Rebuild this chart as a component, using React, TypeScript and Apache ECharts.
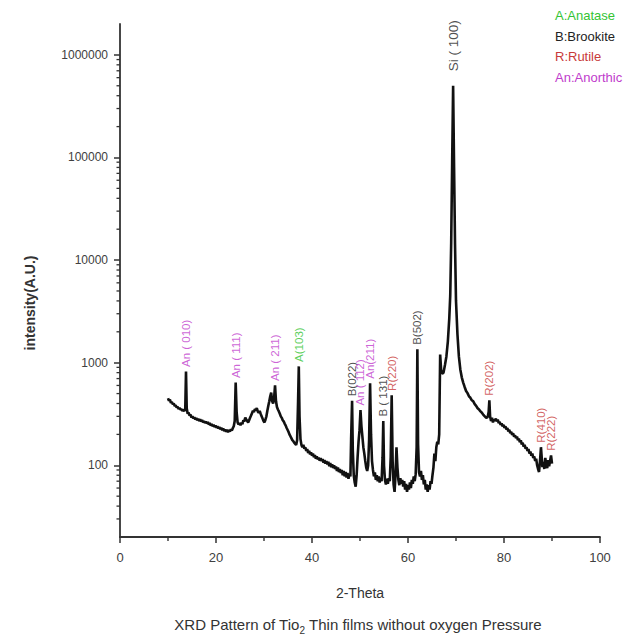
import React, { useEffect, useRef } from "react";
import * as echarts from "echarts";

// 2-Theta (deg) vs intensity (a.u.)
const scan10to30: [number, number][] = [
  [10.0, 450], [10.2, 425], [10.4, 438], [10.6, 405], [10.8, 415], [11.0, 392], [11.2, 400], [11.4, 378],
  [11.6, 386], [11.8, 365], [12.0, 372], [12.2, 355], [12.4, 362], [12.6, 348], [12.8, 352], [13.0, 340],
  [13.2, 346], [13.4, 338], [13.6, 360], [13.75, 820], [13.9, 360], [14.1, 318], [14.3, 326], [14.5, 305],
  [14.7, 312], [14.9, 292], [15.1, 300], [15.3, 286], [15.5, 294], [15.7, 280], [15.9, 288], [16.1, 275],
  [16.3, 284], [16.5, 270], [16.7, 280], [16.9, 268], [17.1, 276], [17.3, 262], [17.5, 270], [17.7, 258],
  [17.9, 266], [18.1, 256], [18.3, 264], [18.5, 250], [18.7, 258], [18.9, 244], [19.1, 252], [19.3, 240],
  [19.5, 248], [19.7, 236], [19.9, 244], [20.1, 232], [20.3, 240], [20.5, 228], [20.7, 236], [20.9, 224],
  [21.1, 232], [21.3, 220], [21.5, 228], [21.7, 216], [21.9, 224], [22.1, 212], [22.3, 222], [22.5, 210],
  [22.7, 220], [22.9, 214], [23.1, 224], [23.3, 218], [23.5, 230], [23.7, 240], [23.9, 270], [24.1, 640],
  [24.3, 330], [24.5, 262], [24.7, 250], [24.9, 258], [25.1, 246], [25.3, 260], [25.5, 252], [25.7, 275],
  [25.9, 268], [26.1, 292], [26.3, 280], [26.5, 270], [26.7, 262], [26.9, 275], [27.1, 290], [27.3, 305],
  [27.5, 322], [27.7, 340], [27.9, 330], [28.1, 352], [28.3, 345], [28.5, 360], [28.7, 335], [28.9, 325],
  [29.1, 338], [29.3, 318], [29.5, 300], [29.7, 285], [29.9, 270],
];
const scan30to50: [number, number][] = [
  [30.1, 262], [30.3, 278], [30.5, 300], [30.7, 340], [30.9, 380], [31.1, 420], [31.3, 470], [31.5, 510],
  [31.7, 420], [31.9, 400], [32.1, 450], [32.3, 600], [32.5, 420], [32.7, 370], [32.9, 350], [33.1, 335],
  [33.3, 318], [33.5, 300], [33.7, 290], [33.9, 275], [34.1, 268], [34.3, 255], [34.5, 245], [34.7, 232],
  [34.9, 222], [35.1, 212], [35.3, 200], [35.5, 192], [35.7, 184], [35.9, 176], [36.1, 172], [36.3, 166],
  [36.5, 162], [36.7, 158], [36.9, 175], [37.1, 420], [37.25, 920], [37.4, 300], [37.6, 180], [37.8, 158],
  [38.0, 150], [38.2, 158], [38.4, 145], [38.6, 150], [38.8, 138], [39.0, 144], [39.2, 132], [39.4, 138],
  [39.6, 128], [39.8, 134], [40.0, 124], [40.2, 130], [40.4, 120], [40.6, 126], [40.8, 116], [41.0, 122],
  [41.2, 114], [41.4, 119], [41.6, 111], [41.8, 117], [42.0, 110], [42.2, 115], [42.4, 106], [42.6, 112],
  [42.8, 104], [43.0, 110], [43.2, 102], [43.4, 108], [43.6, 98], [43.8, 105], [44.0, 96], [44.2, 102],
  [44.4, 94], [44.6, 100], [44.8, 92], [45.0, 97], [45.2, 88], [45.4, 95], [45.6, 86], [45.8, 92],
  [46.0, 84], [46.2, 90], [46.4, 80], [46.6, 88], [46.8, 78], [47.0, 86], [47.2, 76], [47.4, 84],
  [47.6, 74], [47.8, 82], [48.0, 78], [48.15, 180], [48.35, 425], [48.5, 140], [48.7, 80], [48.9, 68],
  [49.1, 62], [49.3, 80], [49.5, 120], [49.7, 170], [49.9, 220],
];
const scan50to70: [number, number][] = [
  [50.1, 345], [50.3, 240], [50.5, 190], [50.7, 150], [50.9, 130], [51.1, 110], [51.3, 95], [51.5, 88],
  [51.7, 100], [51.9, 180], [52.1, 630], [52.3, 200], [52.5, 110], [52.7, 90], [52.9, 78], [53.1, 85],
  [53.3, 72], [53.5, 80], [53.7, 70], [53.9, 78], [54.1, 68], [54.3, 75], [54.5, 70], [54.7, 120],
  [54.85, 270], [55.0, 100], [55.2, 72], [55.4, 65], [55.6, 74], [55.8, 66], [56.0, 75], [56.2, 70],
  [56.4, 120], [56.6, 480], [56.8, 110], [57.0, 65], [57.2, 55], [57.4, 80], [57.6, 150], [57.8, 95],
  [58.0, 72], [58.2, 64], [58.4, 75], [58.6, 66], [58.8, 72], [59.0, 62], [59.2, 70], [59.4, 58],
  [59.6, 66], [59.8, 55], [60.0, 64], [60.2, 58], [60.4, 68], [60.6, 60], [60.8, 72], [61.0, 66],
  [61.2, 78], [61.4, 70], [61.6, 82], [61.8, 150], [61.95, 1350], [62.1, 160], [62.3, 85], [62.5, 78],
  [62.7, 88], [62.9, 72], [63.1, 80], [63.3, 65], [63.5, 72], [63.7, 58], [63.9, 65], [64.1, 55],
  [64.3, 64], [64.5, 58], [64.7, 70], [64.9, 66], [65.1, 80], [65.3, 95], [65.5, 130], [65.7, 110],
  [65.9, 150], [66.1, 170], [66.3, 160], [66.5, 200], [66.7, 1200], [66.9, 850], [67.1, 780], [67.4, 800],
  [67.7, 950], [68.0, 1150], [68.3, 1600], [68.6, 2700], [68.8, 4500], [69.0, 15000], [69.2, 90000],
  [69.4, 500000], [69.6, 80000], [69.8, 14000],
];
const scan70to90: [number, number][] = [
  [70.0, 4000], [70.3, 1900], [70.6, 1150], [70.9, 860], [71.2, 720], [71.5, 640], [71.8, 580], [72.1, 530],
  [72.4, 505], [72.7, 470], [73.0, 455], [73.3, 430], [73.6, 420], [73.9, 395], [74.2, 380], [74.5, 360],
  [74.8, 350], [75.1, 335], [75.4, 325], [75.7, 310], [76.0, 300], [76.3, 290], [76.6, 295], [76.8, 330],
  [76.95, 430], [77.1, 300], [77.3, 270], [77.5, 290], [77.7, 262], [77.9, 280], [78.1, 272], [78.3, 285],
  [78.5, 268], [78.7, 278], [78.9, 258], [79.1, 265], [79.3, 248], [79.5, 256], [79.7, 240], [79.9, 248],
  [80.1, 232], [80.3, 240], [80.5, 224], [80.7, 230], [80.9, 214], [81.1, 222], [81.3, 206], [81.5, 212],
  [81.7, 198], [81.9, 205], [82.1, 190], [82.3, 196], [82.5, 184], [82.7, 190], [82.9, 176], [83.1, 182],
  [83.3, 168], [83.5, 175], [83.7, 160], [83.9, 166], [84.1, 152], [84.3, 158], [84.5, 145], [84.7, 150],
  [84.9, 138], [85.1, 144], [85.3, 130], [85.5, 136], [85.7, 124], [85.9, 130], [86.1, 118], [86.3, 122],
  [86.5, 110], [86.7, 116], [86.9, 100], [87.1, 92], [87.3, 86], [87.5, 110], [87.7, 150], [87.85, 120],
  [88.0, 96], [88.2, 108], [88.4, 92], [88.6, 118], [88.8, 100], [89.0, 94], [89.2, 112], [89.4, 98],
  [89.6, 110], [89.8, 125], [90.0, 104],
];

const peakLabels = [
  { theta: 13.75, text: "An ( 010)", phase: "An" },
  { theta: 24.1, text: "An ( 111)", phase: "An" },
  { theta: 32.3, text: "An ( 211)", phase: "An" },
  { theta: 37.25, text: "A(103)", phase: "A" },
  { theta: 48.35, text: "B(022)", phase: "B" },
  { theta: 50.1, text: "An ( 112)", phase: "An" },
  { theta: 52.1, text: "An(211)", phase: "An" },
  { theta: 54.85, text: "B ( 131)", phase: "B" },
  { theta: 56.6, text: "R(220)", phase: "R" },
  { theta: 61.95, text: "B(502)", phase: "B" },
  { theta: 69.4, text: "Si ( 100)", phase: "Si" },
  { theta: 76.95, text: "R(202)", phase: "R" },
  { theta: 87.7, text: "R(410)", phase: "R" },
  { theta: 89.8, text: "R(222)", phase: "R" },
];

const legendItems = [
  { text: "A:Anatase", phase: "A" },
  { text: "B:Brookite", phase: "B" },
  { text: "R:Rutile", phase: "R" },
  { text: "An:Anorthic", phase: "An" },
];

const phaseColors: Record<string, string> = {
  A: "#33c433",
  B: "#222222",
  R: "#c83a3a",
  An: "#c03ccc",
  Si: "#222222",
};

const xAxisRange = { min: 0, max: 100, interval: 20 };
const xMinorTickValues = [10, 30, 50, 70, 90];
const yAxisRange = { min: 20, max: 2000000 };
const yMinorTickValues: number[] = [];
for (let p = 1; p <= 6; p++) {
  for (let k = 2; k <= 9; k++) {
    const v = k * Math.pow(10, p);
    if (v > yAxisRange.min && v < yAxisRange.max) yMinorTickValues.push(v);
  }
}

const xTitle = "2-Theta";
const yTitle = "intensity(A.U.)";
const captionParts = ["XRD Pattern of Tio", "2", " Thin films without oxygen Pressure"];

const FONT = "'Liberation Sans', Arial, Helvetica, sans-serif";

export default function App() {
  const ref = useRef<HTMLDivElement>(null);

  useEffect(() => {
    if (!ref.current) return;
    const chart = echarts.init(ref.current, null, { renderer: "svg" });
    const scan = [...scan10to30, ...scan30to50, ...scan50to70, ...scan70to90];

    const peakValue = (t: number) => {
      let best = 0;
      for (const [x, y] of scan) if (Math.abs(x - t) < 0.12 && y > best) best = y;
      return best;
    };

    const labelData = peakLabels.map((p) => ({
      name: p.text,
      value: [p.theta, peakValue(p.theta)],
      label: {
        color: phaseColors[p.phase],
        fontSize: p.phase === "Si" ? 13.5 : 11.5,
        distance: p.phase === "Si" ? 14 : 4,
      },
    }));

    const axisColor = "#333";
    const labelColor = "#404040";

    chart.setOption({
      animation: false,
      backgroundColor: "#ffffff",
      grid: { left: 120, right: 42, top: 24, bottom: 106 },
      xAxis: {
        type: "value",
        min: xAxisRange.min,
        max: xAxisRange.max,
        interval: xAxisRange.interval,
        axisLine: { show: true, onZero: false, lineStyle: { color: axisColor, width: 1.8 } },
        axisTick: { show: true, length: 6, lineStyle: { color: axisColor, width: 1.5 } },
        axisLabel: { color: labelColor, fontSize: 13, margin: 14, fontFamily: FONT },
        splitLine: { show: false },
      },
      yAxis: {
        type: "log",
        logBase: 10,
        min: yAxisRange.min,
        max: yAxisRange.max,
        axisLine: { show: true, onZero: false, lineStyle: { color: axisColor, width: 1.8 } },
        axisTick: { show: true, length: 6, lineStyle: { color: axisColor, width: 1.5 } },
        axisLabel: {
          color: labelColor,
          fontSize: 12,
          margin: 12,
          fontFamily: FONT,
          showMinLabel: false,
          showMaxLabel: false,
          formatter: (v: number) => String(Math.round(v)),
        },
        splitLine: { show: false },
      },
      series: [
        {
          type: "line",
          data: scan,
          showSymbol: false,
          symbol: "none",
          lineStyle: { color: "#111", width: 2.6 },
          z: 3,
        },
        {
          type: "scatter",
          data: labelData,
          symbolSize: 1,
          itemStyle: { color: "rgba(0,0,0,0)" },
          label: {
            show: true,
            position: "top",
            rotate: 90,
            align: "left",
            verticalAlign: "middle",
            fontFamily: FONT,
            formatter: (p: any) => p.name,
          },
          z: 4,
        },
        {
          // minor ticks of the log y axis
          type: "custom",
          data: yMinorTickValues.map((v) => [xAxisRange.min, v]),
          clip: false,
          silent: true,
          renderItem: (_params: any, api: any) => {
            const p = api.coord([xAxisRange.min, api.value(1)]);
            return {
              type: "line",
              shape: { x1: p[0] - 3.5, y1: p[1], x2: p[0], y2: p[1] },
              style: { stroke: axisColor, lineWidth: 1.3 },
            };
          },
          z: 5,
        },
        {
          // minor ticks of the x axis
          type: "custom",
          data: xMinorTickValues.map((v) => [v, yAxisRange.min]),
          clip: false,
          silent: true,
          renderItem: (_params: any, api: any) => {
            const p = api.coord([api.value(0), yAxisRange.min]);
            return {
              type: "line",
              shape: { x1: p[0], y1: p[1], x2: p[0], y2: p[1] + 4 },
              style: { stroke: axisColor, lineWidth: 1.4 },
            };
          },
          z: 5,
        },
      ],
      graphic: [
        ...legendItems.map((item, i) => ({
          type: "text",
          left: 555,
          top: 9 + i * 20.7,
          style: {
            text: item.text,
            fill: phaseColors[item.phase],
            font: `13px ${FONT}`,
          },
        })),
        {
          type: "text",
          x: 30,
          y: 303,
          rotation: Math.PI / 2,
          style: {
            text: yTitle,
            fill: "#333",
            font: `bold 14px ${FONT}`,
            align: "center",
            verticalAlign: "middle",
          },
        },
        {
          type: "text",
          x: 360,
          y: 593,
          style: {
            text: xTitle,
            fill: "#333",
            font: `14px ${FONT}`,
            align: "center",
            verticalAlign: "middle",
          },
        },
        {
          type: "text",
          x: 358,
          y: 624,
          style: {
            text: `{m|${captionParts[0]}}{s|${captionParts[1]}}{m|${captionParts[2]}}`,
            align: "center",
            verticalAlign: "middle",
            rich: {
              m: { fontSize: 15, fontFamily: FONT, fill: "#333", color: "#333" },
              s: { fontSize: 10, fontFamily: FONT, fill: "#333", color: "#333", padding: [12, 0, 0, 0] },
            },
          },
        },
      ],
    });

    return () => chart.dispose();
  }, []);

  return (
    <div
      ref={ref}
      style={{ position: "absolute", left: 0, top: 0, width: 642, height: 643 }}
    />
  );
}
